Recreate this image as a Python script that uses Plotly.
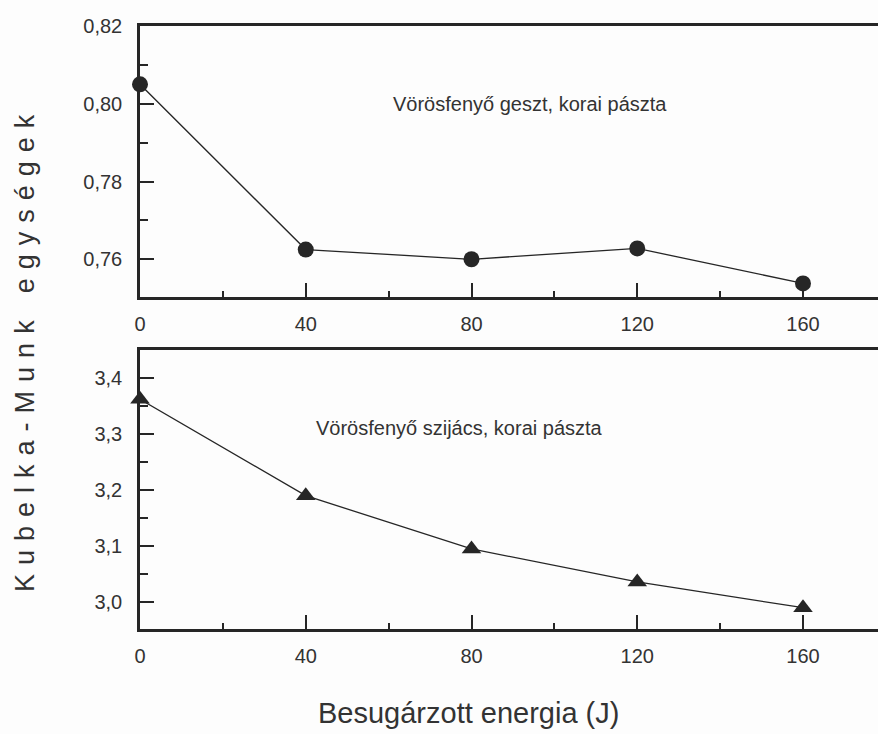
import plotly.graph_objects as go
from plotly.subplots import make_subplots

# Irradiation energy (J)
energy = [0, 40, 80, 120, 160]

# Kubelka-Munk values, larch heartwood (early paste)
geszt = [0.805, 0.7625, 0.760, 0.7628, 0.7538]
# Kubelka-Munk values, larch sapwood (early paste)
szijacs = [3.362, 3.190, 3.095, 3.036, 2.990]

label_top = "Vörösfenyő geszt, korai pászta"
label_bottom = "Vörösfenyő szijács, korai pászta"
x_title = "Besugárzott energia (J)"
gap = "\u2004"
y_title = gap.join("Kubelka-Munk") + gap * 3 + gap.join("egységek")

INK = "#262626"
TEXT = "#333333"
FONT = "Liberation Sans, Arial, sans-serif"

fig = make_subplots(rows=2, cols=1, shared_xaxes=False, vertical_spacing=0.0)

fig.add_trace(go.Scatter(
    x=energy, y=geszt, mode="lines+markers",
    line=dict(color=INK, width=1.3),
    marker=dict(symbol="circle", size=16, color=INK),
    cliponaxis=False, showlegend=False), row=1, col=1)

fig.add_trace(go.Scatter(
    x=energy, y=szijacs, mode="lines+markers",
    line=dict(color=INK, width=1.3),
    marker=dict(symbol="triangle-up", size=17, color=INK),
    cliponaxis=False, showlegend=False), row=2, col=1)

xaxis_style = dict(
    range=[0, 178.1], tickmode="array", tickvals=energy,
    ticktext=[str(v) for v in energy],
    ticks="inside", ticklen=14, tickwidth=2, tickcolor=INK,
    minor=dict(ticks="inside", ticklen=6, tickwidth=2, tickcolor=INK,
               tick0=0, dtick=20),
    showline=True, linewidth=2.5, linecolor=INK, mirror=True,
    showgrid=False, zeroline=False,
    tickfont=dict(family=FONT, size=20, color=TEXT),
    ticklabelstandoff=7,
)
yaxis_style = dict(
    ticks="inside", ticklen=14, tickwidth=2, tickcolor=INK,
    showline=True, linewidth=2.5, linecolor=INK, mirror=False,
    showgrid=False, zeroline=False,
    tickfont=dict(family=FONT, size=20, color=TEXT),
    ticklabelstandoff=11,
)

fig.update_xaxes(**xaxis_style)
fig.update_yaxes(**yaxis_style)

fig.update_yaxes(range=[0.7503, 0.82], tick0=0.76, dtick=0.02, tickformat=".2f",
                 minor=dict(ticks="inside", ticklen=8, tickwidth=2, tickcolor=INK,
                            tick0=0.75, dtick=0.01),
                 domain=[0.5506, 1.0], row=1, col=1)
fig.update_yaxes(range=[2.952, 3.45], tick0=3.0, dtick=0.1, tickformat=".1f",
                 minor=dict(ticks="inside", ticklen=8, tickwidth=2, tickcolor=INK,
                            tick0=2.95, dtick=0.05),
                 domain=[0.0, 0.4627], row=2, col=1)

fig.add_annotation(x=94.0, y=0.800, xref="x", yref="y", text=label_top,
                   showarrow=False, font=dict(family=FONT, size=20, color=TEXT))
fig.add_annotation(x=77.1, y=3.311, xref="x2", yref="y2", text=label_bottom,
                   showarrow=False, font=dict(family=FONT, size=20, color=TEXT))

fig.update_layout(
    width=878, height=734,
    margin=dict(l=140, r=0, t=26, b=105),
    paper_bgcolor="#fdfdfd", plot_bgcolor="#fdfdfd",
    separators=", ",
    font=dict(family=FONT, color=TEXT),
)

# Axis titles placed in pixel terms relative to the plot area
plot_w = 878 - 140
plot_h = 734 - 26 - 105
fig.add_annotation(x=(468 - 140) / plot_w, y=(629 - 713) / plot_h,
                   xref="paper", yref="paper", text=x_title,
                   xanchor="center", yanchor="middle",
                   showarrow=False, font=dict(family=FONT, size=29, color=TEXT))
fig.add_annotation(x=(25 - 140) / plot_w, y=(629 - 353) / plot_h,
                   xref="paper", yref="paper", text=y_title, textangle=-90,
                   xanchor="center", yanchor="middle",
                   showarrow=False, font=dict(family=FONT, size=27, color=TEXT))

fig.write_html("out.html")
